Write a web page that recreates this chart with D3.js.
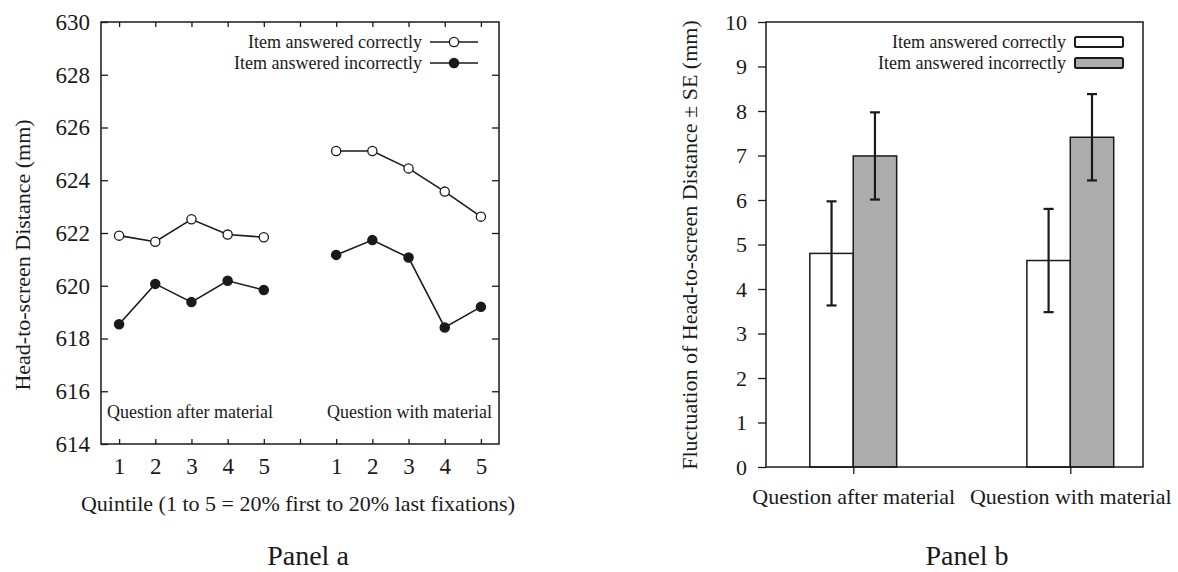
<!DOCTYPE html>
<html>
<head>
<meta charset="utf-8">
<script src="https://cdn.jsdelivr.net/npm/d3@7"></script>
<style>
  html, body { margin: 0; padding: 0; background: #fff; }
  svg { display: block; }
  text { font-family: "Liberation Serif", "Times New Roman", serif; fill: #1a1a1a; }
</style>
</head>
<body>
<svg id="chart" width="1178" height="572"></svg>
<script>
// ---------- Panel a data ----------
const quintilePositions = [1, 2, 3, 4, 5, 6, 7, 8, 9, 10, 11];
const quintileTickLabels = ["1", "2", "3", "4", "5", "", "1", "2", "3", "4", "5"];
const afterPositions = [1, 2, 3, 4, 5];
const withPositions = [7, 8, 9, 10, 11];
const correctAfter = [621.9, 621.67, 622.52, 621.94, 621.84];
const correctWith = [625.11, 625.11, 624.45, 623.57, 622.62];
const incorrectAfter = [618.54, 620.07, 619.38, 620.19, 619.84];
const incorrectWith = [621.17, 621.73, 621.07, 618.42, 619.2];
const yTicksA = [614, 616, 618, 620, 622, 624, 626, 628, 630];
const seriesNames = ["Item answered correctly", "Item answered incorrectly"];

// ---------- Panel b data ----------
const conditions = ["Question after material", "Question with material"];
const fluctCorrect = [4.8, 4.64];
const fluctCorrectSE = [1.17, 1.16];
const fluctIncorrect = [6.99, 7.41];
const fluctIncorrectSE = [0.98, 0.97];
const yTicksB = [0, 1, 2, 3, 4, 5, 6, 7, 8, 9, 10];

const svg = d3.select("#chart");
const ink = "#1a1a1a";

// ================= Panel a =================
const A = { left: 101, right: 499, top: 22, bottom: 444 };
const xA = d3.scaleLinear().domain([0.5, 11.5]).range([A.left, A.right]);
const yA = d3.scaleLinear().domain([614, 630]).range([A.bottom, A.top]);

const gA = svg.append("g");

const styleAxis = (g, size) => {
  g.select(".domain").remove();
  g.selectAll(".tick line").attr("stroke", ink).attr("stroke-width", 1.3);
  g.selectAll("text").attr("font-family", '"Liberation Serif", serif').attr("font-size", size).attr("fill", ink);
};

gA.append("g").attr("transform", `translate(${A.left},0)`)
  .call(d3.axisLeft(yA).tickValues(yTicksA).tickSize(-7).tickPadding(11).tickFormat(d3.format("d")))
  .call(g => styleAxis(g, 23));
gA.append("g").attr("transform", `translate(${A.right},0)`)
  .call(d3.axisRight(yA).tickValues(yTicksA.slice(1, -1)).tickSize(-7).tickFormat(""))
  .call(g => styleAxis(g, 23));
gA.append("g").attr("transform", `translate(0,${A.bottom})`)
  .call(d3.axisBottom(xA).tickValues(quintilePositions).tickSize(-5).tickPadding(14)
    .tickFormat((d, i) => quintileTickLabels[i]))
  .call(g => styleAxis(g, 23));
gA.append("g").attr("transform", `translate(0,${A.top})`)
  .call(d3.axisTop(xA).tickValues(quintilePositions).tickSize(-5).tickFormat(""))
  .call(g => styleAxis(g, 23));

gA.append("rect").attr("x", A.left).attr("y", A.top)
  .attr("width", A.right - A.left).attr("height", A.bottom - A.top)
  .attr("fill", "none").attr("stroke", ink).attr("stroke-width", 1.5);

const lineA = d3.line().x(d => xA(d[0])).y(d => yA(d[1]));
const seriesA = [
  { pos: afterPositions, vals: correctAfter, filled: false },
  { pos: withPositions, vals: correctWith, filled: false },
  { pos: afterPositions, vals: incorrectAfter, filled: true },
  { pos: withPositions, vals: incorrectWith, filled: true }
];
seriesA.forEach(s => {
  const pts = s.pos.map((p, i) => [p, s.vals[i]]);
  gA.append("path").datum(pts).attr("d", lineA)
    .attr("fill", "none").attr("stroke", ink).attr("stroke-width", 1.6);
  gA.selectAll(null).data(pts).enter().append("circle")
    .attr("cx", d => xA(d[0])).attr("cy", d => yA(d[1])).attr("r", 4.6)
    .attr("fill", s.filled ? ink : "#fff").attr("stroke", ink).attr("stroke-width", 1.3);
});

// legend a
const legA = gA.append("g");
seriesNames.forEach((name, i) => {
  const y = 42 + i * 21;
  legA.append("text").attr("x", 422).attr("y", y).attr("dy", "0.35em")
    .attr("text-anchor", "end").attr("font-size", 18).text(name);
  legA.append("line").attr("x1", 430).attr("x2", 478).attr("y1", y).attr("y2", y)
    .attr("stroke", ink).attr("stroke-width", 1.6);
  legA.append("circle").attr("cx", 454).attr("cy", y).attr("r", 4.6)
    .attr("fill", i === 0 ? "#fff" : ink).attr("stroke", ink).attr("stroke-width", 1.3);
});

gA.append("text").attr("x", 107).attr("y", 418).attr("font-size", 18).text(conditions[0]);
gA.append("text").attr("x", 492).attr("y", 418).attr("text-anchor", "end").attr("font-size", 18).text(conditions[1]);

gA.append("text").attr("transform", "translate(30,255) rotate(-90)")
  .attr("text-anchor", "middle").attr("font-size", 22).text("Head-to-screen Distance (mm)");
gA.append("text").attr("x", 298).attr("y", 511)
  .attr("text-anchor", "middle").attr("font-size", 22)
  .text("Quintile (1 to 5 = 20% first to 20% last fixations)");
gA.append("text").attr("x", 308).attr("y", 565)
  .attr("text-anchor", "middle").attr("font-size", 28).text("Panel a");

// ================= Panel b =================
const B = { left: 766, right: 1143, top: 22, bottom: 467 };
const catIdx = conditions.map((c, i) => i);
const xB = d3.scaleLinear().domain([-0.402, 1.335]).range([B.left, B.right]);
const yB = d3.scaleLinear().domain([0, 10]).range([B.bottom, B.top]);
const barW = 0.2;

const gB = svg.append("g");

gB.append("g").attr("transform", `translate(${B.left},0)`)
  .call(d3.axisLeft(yB).tickValues(yTicksB).tickSize(8).tickPadding(11).tickFormat(d3.format("d")))
  .call(g => styleAxis(g, 22));
gB.append("g").attr("transform", `translate(0,${B.bottom})`)
  .call(d3.axisBottom(xB).tickValues(catIdx).tickSize(7).tickPadding(14)
    .tickFormat((d, i) => conditions[i]))
  .call(g => styleAxis(g, 22));

const barsData = [];
catIdx.forEach(i => {
  barsData.push({ x0: i - barW, v: fluctCorrect[i], se: fluctCorrectSE[i], fill: "#ffffff" });
  barsData.push({ x0: i, v: fluctIncorrect[i], se: fluctIncorrectSE[i], fill: "#adadad" });
});
gB.selectAll(".bar").data(barsData).enter().append("rect")
  .attr("x", d => xB(d.x0)).attr("y", d => yB(d.v))
  .attr("width", d => xB(d.x0 + barW) - xB(d.x0)).attr("height", d => yB(0) - yB(d.v))
  .attr("fill", d => d.fill).attr("stroke", ink).attr("stroke-width", 1.5);

gB.append("rect").attr("x", B.left).attr("y", B.top)
  .attr("width", B.right - B.left).attr("height", B.bottom - B.top)
  .attr("fill", "none").attr("stroke", ink).attr("stroke-width", 1.5);

// error bars
barsData.forEach(d => {
  const cx = xB(d.x0 + barW / 2);
  const yt = yB(d.v + d.se), yb = yB(d.v - d.se);
  gB.append("line").attr("x1", cx).attr("x2", cx).attr("y1", yt).attr("y2", yb)
    .attr("stroke", ink).attr("stroke-width", 2.2);
  [yt, yb].forEach(y => gB.append("line").attr("x1", cx - 5).attr("x2", cx + 5)
    .attr("y1", y).attr("y2", y).attr("stroke", ink).attr("stroke-width", 2.2));
});

// legend b
seriesNames.forEach((name, i) => {
  const y = 42 + i * 21;
  gB.append("text").attr("x", 1066).attr("y", y).attr("dy", "0.35em")
    .attr("text-anchor", "end").attr("font-size", 18).text(name);
  gB.append("rect").attr("x", 1075).attr("y", y - 5).attr("width", 48).attr("height", 10)
    .attr("rx", 1.5).attr("fill", i === 0 ? "#fff" : "#adadad")
    .attr("stroke", ink).attr("stroke-width", 2);
});

gB.append("text").attr("transform", "translate(697,245) rotate(-90)")
  .attr("text-anchor", "middle").attr("font-size", 22)
  .text("Fluctuation of Head-to-screen Distance \u00b1 SE (mm)");
gB.append("text").attr("x", 967).attr("y", 565)
  .attr("text-anchor", "middle").attr("font-size", 28).text("Panel b");
</script>
</body>
</html>
